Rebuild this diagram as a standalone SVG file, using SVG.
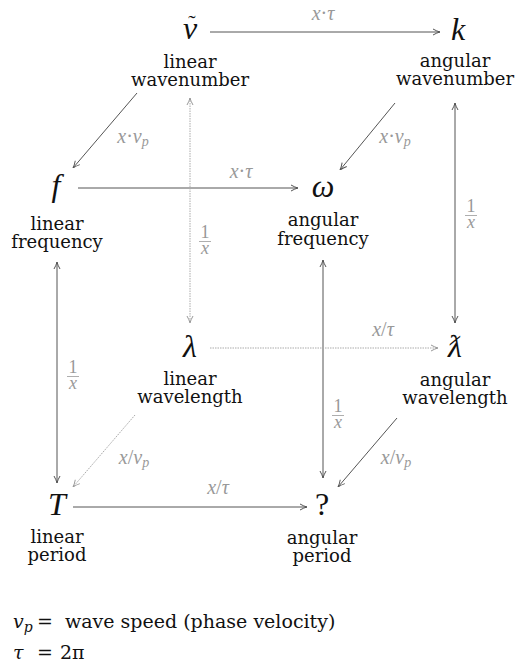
<svg xmlns="http://www.w3.org/2000/svg" width="515" height="663" viewBox="0 0 515 663">
<style>
text{font-family:"Liberation Serif","DejaVu Serif",serif}
.sym{font-style:italic;font-size:32px;fill:#111;text-anchor:middle}
.up{font-size:32px;fill:#111;text-anchor:middle}
.til{font-size:22px;fill:#111;text-anchor:middle}
.lab{font-family:"DejaVu Serif",serif;font-size:18px;fill:#111;text-anchor:middle}
.el{font-style:italic;font-size:20px;fill:#999;text-anchor:middle}
.fr{font-size:18px}
.eln{font-style:normal}
.sub{font-size:14px}
.leg{font-family:"DejaVu Serif",serif;font-size:19px;fill:#111}
.dk{stroke:#555;stroke-width:1;fill:none}
.lt{stroke:#aaa;stroke-width:1;fill:none;stroke-dasharray:1.5 1}
.fb{stroke:#999;stroke-width:0.8}
</style>
<defs>
<marker id="ad" viewBox="0 0 8 8" refX="8" refY="4" markerWidth="8" markerHeight="8" markerUnits="userSpaceOnUse" orient="auto-start-reverse">
<path d="M1,1 Q5,3.3 8,4 Q5,4.7 1,7" fill="none" stroke="#555" stroke-width="1"/>
</marker>
<marker id="al" viewBox="0 0 8 8" refX="8" refY="4" markerWidth="8" markerHeight="8" markerUnits="userSpaceOnUse" orient="auto-start-reverse">
<path d="M1,1 Q5,3.3 8,4 Q5,4.7 1,7" fill="none" stroke="#999" stroke-width="1"/>
</marker>
</defs>
<g id="connectors">
<path class="dk" d="M210,32 L440,32" marker-end="url(#ad)"/>
<path class="dk" d="M395,103 L340,170" marker-end="url(#ad)"/>
<path class="dk" d="M137,93 L73,168" marker-end="url(#ad)"/>
<path class="dk" d="M78,188 L298,188" marker-end="url(#ad)"/>
<path class="dk" d="M455,103 L455,323" marker-start="url(#ad)" marker-end="url(#ad)"/>
<path class="dk" d="M57,262 L57,483" marker-start="url(#ad)" marker-end="url(#ad)"/>
<path class="dk" d="M323,260 L323,478" marker-start="url(#ad)" marker-end="url(#ad)"/>
<path class="dk" d="M397,418 L338,487" marker-end="url(#ad)"/>
<path class="dk" d="M73,507 L307,507" marker-end="url(#ad)"/>
<path class="lt" d="M190,98 L190,323" marker-start="url(#al)" marker-end="url(#al)"/>
<path class="lt" d="M210,348 L438,348" marker-end="url(#al)"/>
<path class="lt" d="M135,415 L73,487" marker-end="url(#al)"/>
<text class="el" x="323" y="20">x<tspan class="eln">·</tspan>τ</text>
<text class="el" x="395" y="143">x<tspan class="eln">·</tspan>v<tspan class="sub" dy="3">p</tspan></text>
<text class="el" x="133" y="143">x<tspan class="eln">·</tspan>v<tspan class="sub" dy="3">p</tspan></text>
<text class="el" x="241" y="178">x<tspan class="eln">·</tspan>τ</text>
<text class="el fr" x="205" y="238"><tspan class="eln">1</tspan></text>
<line class="fb" x1="199" y1="241.5" x2="211" y2="241.5"/>
<text class="el fr" x="205" y="254">x</text>
<text class="el fr" x="471" y="212"><tspan class="eln">1</tspan></text>
<line class="fb" x1="465" y1="215.5" x2="477" y2="215.5"/>
<text class="el fr" x="471" y="228">x</text>
<text class="el fr" x="73" y="373"><tspan class="eln">1</tspan></text>
<line class="fb" x1="67" y1="376.5" x2="79" y2="376.5"/>
<text class="el fr" x="73" y="389">x</text>
<text class="el fr" x="338" y="412"><tspan class="eln">1</tspan></text>
<line class="fb" x1="332" y1="415.5" x2="344" y2="415.5"/>
<text class="el fr" x="338" y="428">x</text>
<text class="el" x="383" y="336">x<tspan class="eln">/</tspan>τ</text>
<text class="el" x="134" y="464">x<tspan class="eln">/</tspan>v<tspan class="sub" dy="3">p</tspan></text>
<text class="el" x="396" y="464">x<tspan class="eln">/</tspan>v<tspan class="sub" dy="3">p</tspan></text>
<text class="el" x="218" y="494">x<tspan class="eln">/</tspan>τ</text>
</g>
<g id="node-nu">
<text class="sym" x="190" y="39">ν</text>
<text class="til" x="192" y="30">˜</text>
<text class="lab" x="190" y="68">linear</text>
<text class="lab" x="190" y="86">wavenumber</text>
</g>
<g id="node-k">
<text class="sym" x="458" y="40">k</text>
<text class="lab" x="455" y="67">angular</text>
<text class="lab" x="455" y="85">wavenumber</text>
</g>
<g id="node-f">
<text class="sym" x="56" y="196">f</text>
<text class="lab" x="57" y="230">linear</text>
<text class="lab" x="57" y="248">frequency</text>
</g>
<g id="node-omega">
<text class="sym" x="323" y="197">ω</text>
<text class="lab" x="323" y="226">angular</text>
<text class="lab" x="323" y="245">frequency</text>
</g>
<g id="node-lambda">
<text class="sym" x="190" y="357">λ</text>
<text class="lab" x="190" y="385">linear</text>
<text class="lab" x="190" y="403">wavelength</text>
</g>
<g id="node-lambdabar">
<text class="sym" x="455" y="357">ƛ</text>
<text class="lab" x="455" y="386">angular</text>
<text class="lab" x="455" y="404">wavelength</text>
</g>
<g id="node-T">
<text class="sym" x="57" y="515">T</text>
<text class="lab" x="57" y="543">linear</text>
<text class="lab" x="57" y="561">period</text>
</g>
<g id="node-q">
<text class="up" x="322" y="515">?</text>
<text class="lab" x="322" y="544">angular</text>
<text class="lab" x="322" y="562">period</text>
</g>
<g id="legend">
<text class="leg" x="13" y="628"><tspan font-style="italic">v</tspan><tspan font-style="italic" font-size="14px" dy="4">p</tspan><tspan x="37" dy="-4">=</tspan><tspan x="65">wave speed (phase velocity)</tspan></text>
<text class="leg" x="13" y="659"><tspan font-style="italic">τ</tspan><tspan x="37">=</tspan><tspan x="60">2π</tspan></text>
</g>
</svg>
